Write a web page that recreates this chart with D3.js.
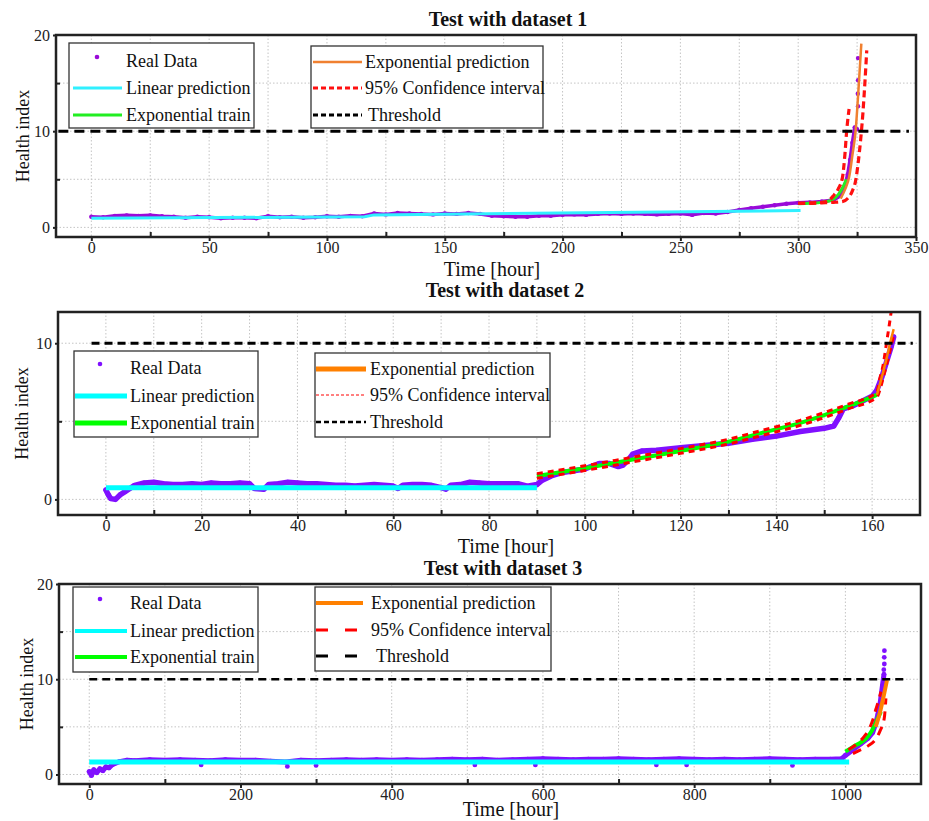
<!DOCTYPE html>
<html>
<head>
<meta charset="utf-8">
<script src="https://cdn.jsdelivr.net/npm/d3@7"></script>
<style>
  body { margin: 0; background: #fff; }
  svg { display: block; font-family: "Liberation Serif", "Times New Roman", serif; }
</style>
</head>
<body>
<svg id="chart" width="929" height="821"></svg>
<script>
const FONT = "Liberation Serif, Times New Roman, serif";

// legend labels (same in all three panels)
const legendLeft = ["Real Data", "Linear prediction", "Exponential train"];
const legendRight = ["Exponential prediction", "95% Confidence interval", "Threshold"];
const titles = ["Test with dataset 1", "Test with dataset 2", "Test with dataset 3"];

// ---- dataset 1 : [time, health index] ----
const real1 = [[0,1.1],[5,1.05],[10,1.2],[15,1.25],[20,1.2],[25,1.25],[30,1.15],[35,1.1],[40,1.0],[45,1.1],
  [50,1.05],[55,0.95],[60,1.0],[65,1.0],[70,0.95],[75,1.15],[80,1.05],[85,1.1],[90,1.0],[95,1.05],
  [100,1.15],[105,1.1],[110,1.2],[115,1.15],[120,1.45],[125,1.35],[130,1.5],[135,1.45],[140,1.4],[145,1.35],
  [150,1.45],[155,1.4],[160,1.5],[165,1.4],[170,1.2],[175,1.15],[180,1.1],[185,1.1],[190,1.2],[195,1.2],
  [200,1.3],[205,1.35],[210,1.3],[215,1.4],[220,1.45],[225,1.4],[230,1.45],[235,1.4],[240,1.35],[245,1.4],
  [250,1.45],[255,1.3],[260,1.5],[265,1.45],[270,1.6],[275,1.8],[280,2.0],[285,2.15],[290,2.3],[295,2.45],
  [300,2.55],[305,2.6],[310,2.7],[315,2.85],[318,3.3],[320,4.5],[321,5.5],[322,7.0],[323,8.8],[324,10.4],[325,10.2]];
const real1Scatter = [[325.4,12.6],[325.3,13.9],[325.4,15.3],[325.4,17.6]];
const linear1 = [[0,0.95],[116,1.1],[120,1.3],[301,1.75]];
const expTrain1 = [[300,2.45],[305,2.5],[310,2.6],[314,2.8],[317,3.4],[319,4.2],[320.5,5.0]];
const expPred1 = [[318,3.0],[320,4.0],[321.6,5.2],[323,7.5],[324.4,10.1],[325.5,14],[326.8,19.1]];
const ciUpper1 = [[300,2.5],[305,2.55],[310,2.6],[313,2.8],[315,3.3],[317,4.0],[318.8,5.2],[319.8,7.5],[320.6,10.1],[321.6,12.3]];
const ciLower1 = [[300,2.5],[305,2.5],[310,2.55],[315,2.6],[319,2.7],[321,3.0],[323,3.8],[324.5,5.0],[325.5,6.8],[326.5,9.1],[327.5,12],[328.3,15],[329.1,18.4]];
const threshold1 = [[-14,10],[347,10]];
const xTicks1 = [0,50,100,150,200,250,300,350];
const xMinor1 = [25,75,125,175,225,275,325];
const yTicks1 = [0,10,20];
const yMinor1 = [5,15];

// ---- dataset 2 ----
const real2 = [[0,0.6],[0.5,0.3],[1,0.05],[2,0.0],[3,0.3],[4,0.5],[5,0.7],[6,0.9],[8,1.05],[10,1.1],
  [12,1.0],[14,0.95],[16,0.95],[18,1.0],[20,0.95],[22,1.05],[24,1.0],[26,1.0],[28,1.05],[30,1.0],
  [31,0.7],[33,0.65],[34,0.95],[36,1.0],[38,1.1],[40,1.05],[42,1.0],[44,1.0],[46,0.95],[48,0.9],
  [50,0.9],[52,0.85],[54,0.9],[56,0.95],[58,0.9],[60,0.85],[61,0.7],[62,0.9],[64,0.95],[66,0.95],
  [68,0.9],[70,0.75],[71,0.65],[72,0.9],[74,0.95],[76,1.1],[78,1.05],[80,1.0],[82,1.0],[84,1.0],
  [86,1.0],[88,0.85],[90,0.95],[91,1.2],[93,1.5],[95,1.7],[98,1.85],[100,1.95],[103,2.3],[105,2.3],
  [107,2.1],[108,2.2],[109,2.5],[110,2.9],[112,3.1],[115,3.15],[120,3.3],[125,3.45],[130,3.6],[135,3.85],
  [140,4.05],[145,4.35],[150,4.55],[152,4.7],[153,5.2],[154,5.8],[156,6.0],[158,6.3],[160,6.6],[161,7.0],
  [162,7.8],[163,8.8],[164,9.8],[164.5,10.4]];
const real2Scatter = [];
const linear2 = [[0,0.75],[90,0.75]];
const expTrain2 = [[90,1.5],[100,2.0],[110,2.55],[120,3.1],[130,3.7],[137,4.26],[145,4.9],[150,5.4],[155,5.95],[161,6.7]];
const expPred2 = [[161,6.7],[162,7.8],[163,9.0],[164,10.3],[164.5,10.9]];
const ciUpper2 = [[90,1.65],[100,2.15],[110,2.7],[120,3.25],[130,3.85],[137,4.42],[145,5.06],[150,5.56],[155,6.1],[161,6.85],[161.5,7.6],[162.3,8.6],[163,10],[163.6,11.2],[164.2,12.5]];
const ciLower2 = [[90,1.35],[100,1.85],[110,2.4],[120,2.95],[130,3.55],[137,4.1],[145,4.74],[150,5.24],[155,5.8],[161,6.55],[161.8,7.2],[162.5,8.0],[163.5,9.2],[164.5,10.5]];
const threshold2 = [[-3,10],[168.5,10]];
const xTicks2 = [0,20,40,60,80,100,120,140,160];
const xMinor2 = [10,30,50,70,90,110,130,150,170];
const yTicks2 = [0,10];
const yMinor2 = [5];

// ---- dataset 3 ----
const real3 = [[0,0.3],[3,-0.1],[6,0.5],[10,0.2],[14,0.6],[18,0.4],[22,0.8],[26,0.7],[30,1.0],[35,1.2],
  [40,1.35],[50,1.5],[60,1.45],[80,1.55],[100,1.5],[120,1.55],[140,1.5],[160,1.45],[180,1.55],[200,1.5],
  [220,1.5],[240,1.4],[260,1.3],[280,1.5],[300,1.45],[320,1.5],[340,1.55],[360,1.5],[380,1.55],[400,1.5],
  [420,1.55],[440,1.5],[460,1.55],[480,1.6],[500,1.55],[520,1.6],[540,1.5],[560,1.55],[580,1.6],[600,1.65],
  [620,1.6],[640,1.55],[660,1.6],[680,1.6],[700,1.65],[720,1.6],[740,1.55],[760,1.6],[780,1.65],[800,1.6],
  [820,1.55],[840,1.6],[860,1.55],[880,1.6],[900,1.65],[920,1.6],[940,1.55],[960,1.6],[980,1.6],[995,1.65],
  [1000,2.0],[1010,2.6],[1020,3.2],[1030,3.8],[1036,4.4],[1040,5.3],[1043,6.3],[1046,7.5],[1049,9.3],[1051,10.5]];
const real3Scatter = [[148,1.0],[262,0.85],[300,0.95],[510,1.0],[590,1.0],[750,1.0],[790,1.0],[930,0.95],
  [1050.8,11.0],[1051.5,11.6],[1051.4,12.3],[1051.6,13.0]];
const linear3 = [[0,1.3],[1005,1.3]];
const expTrain3 = [[1000,2.4],[1010,2.9],[1020,3.35],[1027,3.75],[1035,4.6],[1040.5,5.5],[1047,6.6]];
const expPred3 = [[1040,5.0],[1045,6.3],[1050,8.0],[1055,9.9]];
const ciUpper3 = [[1004,2.6],[1015,3.2],[1025,4.0],[1031.6,4.8],[1037,5.9],[1040.5,6.9],[1044,7.8],[1047,8.7]];
const ciLower3 = [[1010,2.2],[1018,2.5],[1030,3.0],[1040,3.7],[1046,4.6],[1051.4,5.9],[1053.6,8.0]];
const threshold3 = [[0,10],[1080,10]];
const xTicks3 = [0,200,400,600,800,1000];
const xMinor3 = [100,300,500,700,900,1100];
const yTicks3 = [0,10,20];
const yMinor3 = [5,15];

const panels = [
  {
    id: 1, real: real1, scatter: real1Scatter, linear: linear1, train: expTrain1, pred: expPred1,
    ciU: ciUpper1, ciL: ciLower1, thr: threshold1,
    xTicks: xTicks1, xMinor: xMinor1, yTicks: yTicks1, yMinor: yMinor1,
    xDomain: [-15, 350], yDomain: [-1, 20],
    box: { x0: 56, x1: 916, y0: 35, y1: 237 },
    title: { x: 508, y: 26 }, xLabel: { x: 492, y: 276 }, yLabel: { x: 23 },
    colors: { real: "#9a0ad8", cyan: "#30f0ff", green: "#22ee22", orange: "#f08030", red: "#ff1010" },
    w: { band: 3.5, dot: 2.2, cyan: 3, green: 3, orange: 2.5, red: 3.2, thr: 3 },
    dash: { red: "7,4", thr: "10,6" },
    lw: { cyan: 3, green: 3, orange: 2.5, red: 3, thr: 3 },
    ldash: { red: "5,3", thr: "5,3" },
    legL: { x: 69, y: 43, w: 185, h: 85, rows: [61, 88, 115], sx0: 73, sx1: 122, dotX: 97, tx: 126 },
    legR: { x: 311, y: 46, w: 232, h: 82, rows: [62, 88, 115], sx0: 313, sx1: 362, tx: [365, 365, 368] }
  },
  {
    id: 2, real: real2, scatter: real2Scatter, linear: linear2, train: expTrain2, pred: expPred2,
    ciU: ciUpper2, ciL: ciLower2, thr: threshold2,
    xTicks: xTicks2, xMinor: xMinor2, yTicks: yTicks2, yMinor: yMinor2,
    xDomain: [-10, 170], yDomain: [-1, 12],
    box: { x0: 58, x1: 920, y0: 312, y1: 515 },
    title: { x: 505, y: 297 }, xLabel: { x: 506, y: 553 }, yLabel: { x: 22 },
    colors: { real: "#8010ff", cyan: "#00ffff", green: "#00ff00", orange: "#ff8000", red: "#ff0000" },
    w: { band: 5.5, dot: 2.4, cyan: 5, green: 4, orange: 2.5, red: 3, thr: 3 },
    dash: { red: "6,5", thr: "8,5" },
    lw: { cyan: 5, green: 5, orange: 5, red: 1, thr: 2.5 },
    ldash: { red: "3,2", thr: "5,3" },
    legL: { x: 74, y: 351, w: 184, h: 86, rows: [368, 396, 423], sx0: 75, sx1: 127, dotX: 100, tx: 130 },
    legR: { x: 315, y: 353, w: 235, h: 84, rows: [369, 395, 422], sx0: 316, sx1: 366, tx: [370, 370, 370] }
  },
  {
    id: 3, real: real3, scatter: real3Scatter, linear: linear3, train: expTrain3, pred: expPred3,
    ciU: ciUpper3, ciL: ciLower3, thr: threshold3,
    xTicks: xTicks3, xMinor: xMinor3, yTicks: yTicks3, yMinor: yMinor3,
    xDomain: [-40, 1100], yDomain: [-1, 20],
    box: { x0: 59, x1: 921, y0: 584, y1: 784 },
    title: { x: 503, y: 575 }, xLabel: { x: 511, y: 816 }, yLabel: { x: 27 },
    colors: { real: "#8010ff", cyan: "#00ffff", green: "#00ff00", orange: "#ff8000", red: "#ff0000" },
    w: { band: 5, dot: 2.4, cyan: 5, green: 4, orange: 4, red: 3, thr: 2.5 },
    dash: { red: "9,7", thr: "8,5" },
    lw: { cyan: 4, green: 4, orange: 4, red: 3, thr: 3 },
    ldash: { red: "12,17", thr: "12,17" },
    legL: { x: 73, y: 587, w: 185, h: 85, rows: [603, 631, 657], sx0: 75, sx1: 127, dotX: 100, tx: 130 },
    legR: { x: 315, y: 587, w: 236, h: 84, rows: [603, 630, 656], sx0: 316, sx1: 363, tx: [371, 371, 376] }
  }
];

const svg = d3.select("#chart");

function drawPanel(p) {
  const x = d3.scaleLinear().domain(p.xDomain).range([p.box.x0, p.box.x1]);
  const y = d3.scaleLinear().domain(p.yDomain).range([p.box.y1, p.box.y0]);
  const g = svg.append("g").attr("font-family", FONT);
  const clipId = "clip" + p.id;

  g.append("clipPath").attr("id", clipId).append("rect")
    .attr("x", p.box.x0).attr("y", p.box.y0)
    .attr("width", p.box.x1 - p.box.x0).attr("height", p.box.y1 - p.box.y0);

  // grid (major + minor, dotted)
  const grid = g.append("g").attr("stroke", "#c4c4c4").attr("stroke-width", 1).attr("stroke-dasharray", "1.5,2");
  grid.selectAll("line.v").data(p.xTicks.concat(p.xMinor).filter(d => d > p.xDomain[0] && d < p.xDomain[1]))
    .join("line").attr("class", "v")
    .attr("x1", d => x(d)).attr("x2", d => x(d)).attr("y1", p.box.y0).attr("y2", p.box.y1);
  grid.selectAll("line.h").data(p.yTicks.concat(p.yMinor).filter(d => d > p.yDomain[0] && d < p.yDomain[1]))
    .join("line").attr("class", "h")
    .attr("x1", p.box.x0).attr("x2", p.box.x1).attr("y1", d => y(d)).attr("y2", d => y(d));

  // axes: major ticks outside with labels, minor ticks inside
  const xa = g.append("g").attr("transform", `translate(0,${p.box.y1})`)
    .call(d3.axisBottom(x).tickValues(p.xTicks).tickSize(4).tickPadding(1).tickFormat(d3.format("d")));
  const xm = g.append("g").attr("transform", `translate(0,${p.box.y1})`)
    .call(d3.axisBottom(x).tickValues(p.xMinor.filter(d => d < p.xDomain[1])).tickSize(-5).tickFormat(""));
  const ya = g.append("g").attr("transform", `translate(${p.box.x0},0)`)
    .call(d3.axisLeft(y).tickValues(p.yTicks).tickSize(3).tickPadding(3).tickFormat(d3.format("d")));
  const ym = g.append("g").attr("transform", `translate(${p.box.x0},0)`)
    .call(d3.axisLeft(y).tickValues(p.yMinor).tickSize(-4).tickFormat(""));
  for (const a of [xa, xm, ya, ym]) {
    a.select(".domain").remove();
    a.attr("font-family", FONT).attr("font-size", 16).attr("color", "#222");
    a.selectAll("line").attr("stroke-width", 2);
  }

  const plot = g.append("g").attr("clip-path", `url(#${clipId})`);
  const line = d3.line().x(d => x(d[0])).y(d => y(d[1]));
  const smooth = d3.line().x(d => x(d[0])).y(d => y(d[1])).curve(d3.curveMonotoneX);

  // real data: dense band of points
  plot.append("path").datum(p.real)
    .attr("fill", "none").attr("stroke", p.colors.real)
    .attr("stroke-width", p.w.band).attr("stroke-linejoin", "round").attr("stroke-linecap", "round")
    .attr("d", line);
  plot.selectAll("circle.real").data(p.real.concat(p.scatter)).join("circle")
    .attr("class", "real")
    .attr("cx", d => x(d[0])).attr("cy", d => y(d[1])).attr("r", p.w.dot)
    .attr("fill", p.colors.real);

  plot.append("path").datum(p.linear)
    .attr("fill", "none").attr("stroke", p.colors.cyan).attr("stroke-width", p.w.cyan).attr("d", line);
  plot.append("path").datum(p.train)
    .attr("fill", "none").attr("stroke", p.colors.green).attr("stroke-width", p.w.green).attr("d", smooth);
  for (const ci of [p.ciU, p.ciL]) {
    plot.append("path").datum(ci)
      .attr("fill", "none").attr("stroke", p.colors.red).attr("stroke-width", p.w.red)
      .attr("stroke-dasharray", p.dash.red).attr("d", smooth);
  }
  plot.append("path").datum(p.pred)
    .attr("fill", "none").attr("stroke", p.colors.orange).attr("stroke-width", p.w.orange).attr("d", smooth);
  plot.append("path").datum(p.thr)
    .attr("fill", "none").attr("stroke", "#000").attr("stroke-width", p.w.thr)
    .attr("stroke-dasharray", p.dash.thr).attr("d", line);

  // frame
  g.append("rect")
    .attr("x", p.box.x0).attr("y", p.box.y0)
    .attr("width", p.box.x1 - p.box.x0).attr("height", p.box.y1 - p.box.y0)
    .attr("fill", "none").attr("stroke", "#222").attr("stroke-width", 2.5);

  // legends
  const L = p.legL;
  const lg = g.append("g");
  lg.append("rect").attr("x", L.x).attr("y", L.y).attr("width", L.w).attr("height", L.h)
    .attr("fill", "#fff").attr("stroke", "#333").attr("stroke-width", 1.3);
  lg.append("circle").attr("cx", L.dotX).attr("cy", L.rows[0] - 4).attr("r", 2.3).attr("fill", p.colors.real);
  lg.append("line").attr("x1", L.sx0).attr("x2", L.sx1).attr("y1", L.rows[1]).attr("y2", L.rows[1])
    .attr("stroke", p.colors.cyan).attr("stroke-width", p.lw.cyan);
  lg.append("line").attr("x1", L.sx0).attr("x2", L.sx1).attr("y1", L.rows[2]).attr("y2", L.rows[2])
    .attr("stroke", p.colors.green).attr("stroke-width", p.lw.green);
  lg.selectAll("text").data(legendLeft).join("text")
    .attr("x", L.tx).attr("y", (d, i) => L.rows[i]).attr("dy", "0.35em")
    .attr("font-size", 18).attr("fill", "#111").text(d => d);

  const R = p.legR;
  const rg = g.append("g");
  rg.append("rect").attr("x", R.x).attr("y", R.y).attr("width", R.w).attr("height", R.h)
    .attr("fill", "#fff").attr("stroke", "#333").attr("stroke-width", 1.3);
  const rStyles = [
    { c: p.colors.orange, w: p.lw.orange, d: null },
    { c: p.colors.red, w: p.lw.red, d: p.ldash.red },
    { c: "#000", w: p.lw.thr, d: p.ldash.thr }
  ];
  rg.selectAll("line").data(rStyles).join("line")
    .attr("x1", R.sx0).attr("x2", R.sx1)
    .attr("y1", (d, i) => R.rows[i]).attr("y2", (d, i) => R.rows[i])
    .attr("stroke", d => d.c).attr("stroke-width", d => d.w).attr("stroke-dasharray", d => d.d);
  rg.selectAll("text").data(legendRight).join("text")
    .attr("x", (d, i) => R.tx[i]).attr("y", (d, i) => R.rows[i]).attr("dy", "0.35em")
    .attr("font-size", 18).attr("fill", "#111").text(d => d);

  // titles
  g.append("text").attr("x", p.title.x).attr("y", p.title.y)
    .attr("text-anchor", "middle").attr("font-weight", "bold").attr("font-size", 20)
    .attr("fill", "#111").text(titles[p.id - 1]);
  g.append("text").attr("x", p.xLabel.x).attr("y", p.xLabel.y)
    .attr("text-anchor", "middle").attr("font-size", 20).attr("fill", "#111").text("Time [hour]");
  const cy = (p.box.y0 + p.box.y1) / 2;
  g.append("text")
    .attr("transform", `translate(${p.yLabel.x},${cy}) rotate(-90)`)
    .attr("text-anchor", "middle").attr("dy", "0.35em")
    .attr("font-size", 18).attr("fill", "#111").text("Health index");
}

panels.forEach(drawPanel);
</script>
</body>
</html>
